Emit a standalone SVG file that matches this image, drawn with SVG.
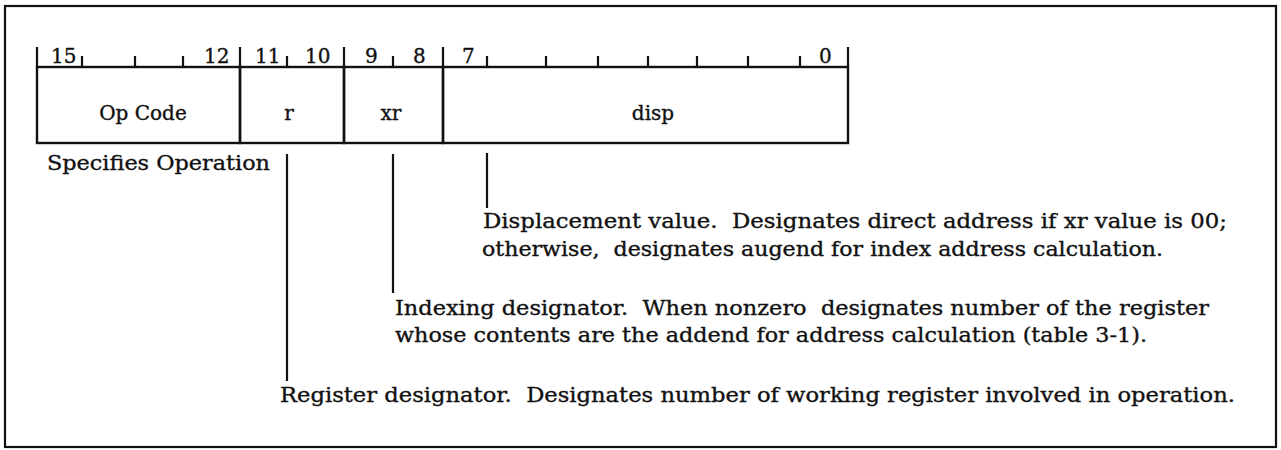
<svg xmlns="http://www.w3.org/2000/svg" width="1281" height="450" viewBox="0 0 1281 450">
<style>
text{font-family:"DejaVu Serif","Liberation Serif",serif;font-size:20px;fill:#111;stroke:#111;stroke-width:0.35;white-space:pre}
.c{text-anchor:middle}
.box{fill:none;stroke:#111;stroke-width:2.4}
.tick{stroke:#111;stroke-width:2.2}
.conn{stroke:#111;stroke-width:2.2;fill:none}
</style>
<rect x="5" y="6" width="1271" height="441" fill="#fff" stroke="#111" stroke-width="2.2"/>
<g id="bit-scale">
<g class="tick">
<line x1="37" y1="47" x2="37" y2="67"/>
<line x1="240" y1="47" x2="240" y2="67"/>
<line x1="344" y1="47" x2="344" y2="67"/>
<line x1="443" y1="47" x2="443" y2="67"/>
<line x1="848" y1="47" x2="848" y2="67"/>
<line x1="82" y1="56" x2="82" y2="67"/>
<line x1="135" y1="56" x2="135" y2="67"/>
<line x1="183" y1="56" x2="183" y2="67"/>
<line x1="287" y1="56" x2="287" y2="67"/>
<line x1="393" y1="56" x2="393" y2="67"/>
<line x1="487" y1="56" x2="487" y2="67"/>
<line x1="546" y1="56" x2="546" y2="67"/>
<line x1="598" y1="56" x2="598" y2="67"/>
<line x1="648" y1="56" x2="648" y2="67"/>
<line x1="697" y1="56" x2="697" y2="67"/>
<line x1="748" y1="56" x2="748" y2="67"/>
<line x1="800" y1="56" x2="800" y2="67"/>
</g>
<text x="51" y="63">15</text>
<text x="204" y="63">12</text>
<text x="255" y="63">11</text>
<text x="305" y="63">10</text>
<text x="365" y="63">9</text>
<text x="413" y="63">8</text>
<text x="462" y="63">7</text>
<text x="819" y="63">0</text>
</g>
<g id="field-opcode">
<rect class="box" x="37" y="67" width="203" height="76"/>
<text class="c" x="143" y="120">Op Code</text>
</g>
<g id="field-r">
<rect class="box" x="240" y="67" width="104" height="76"/>
<text class="c" x="289" y="120">r</text>
</g>
<g id="field-xr">
<rect class="box" x="344" y="67" width="99" height="76"/>
<text class="c" x="391" y="120">xr</text>
</g>
<g id="field-disp">
<rect class="box" x="443" y="67" width="405" height="76"/>
<text class="c" x="653" y="120">disp</text>
</g>
<g id="connectors">
<line class="conn" x1="287" y1="154" x2="287" y2="381"/>
<line class="conn" x1="393" y1="154" x2="393" y2="293"/>
<line class="conn" x1="487" y1="153" x2="487" y2="208"/>
</g>
<g id="note-opcode">
<text x="47" y="170" textLength="223" lengthAdjust="spacingAndGlyphs">Specifies Operation</text>
</g>
<g id="note-disp">
<text x="483" y="228" textLength="744" lengthAdjust="spacingAndGlyphs">Displacement value.  Designates direct address if xr value is 00;</text>
<text x="482" y="256" textLength="681" lengthAdjust="spacingAndGlyphs">otherwise,  designates augend for index address calculation.</text>
</g>
<g id="note-xr">
<text x="395" y="315" textLength="814" lengthAdjust="spacingAndGlyphs">Indexing designator.  When nonzero  designates number of the register</text>
<text x="395" y="342" textLength="752" lengthAdjust="spacingAndGlyphs">whose contents are the addend for address calculation (table 3-1).</text>
</g>
<g id="note-r">
<text x="280" y="402" textLength="955" lengthAdjust="spacingAndGlyphs">Register designator.  Designates number of working register involved in operation.</text>
</g>
</svg>
